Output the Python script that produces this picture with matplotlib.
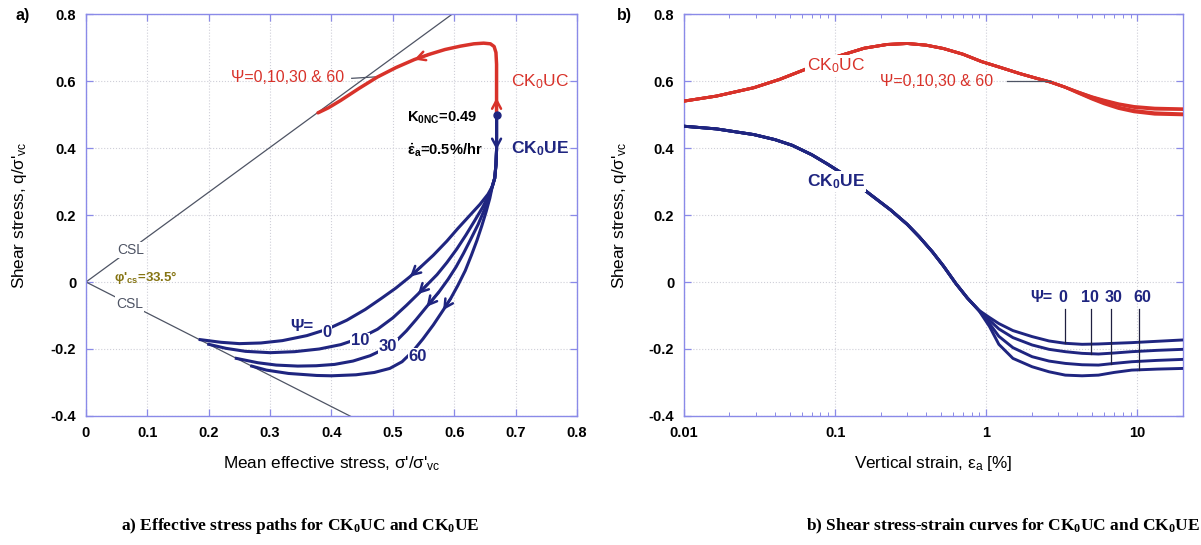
import numpy as np
import matplotlib
matplotlib.use("Agg")
import matplotlib.pyplot as plt
from matplotlib.ticker import FixedLocator, LogLocator, NullFormatter, FuncFormatter

plt.rcParams['font.family'] = ['Liberation Sans', 'DejaVu Sans']
plt.rcParams['mathtext.fontset'] = 'custom'
plt.rcParams['mathtext.rm'] = 'Liberation Sans'
plt.rcParams['mathtext.it'] = 'Liberation Sans:italic'
plt.rcParams['mathtext.bf'] = 'Liberation Sans:bold'
plt.rcParams['mathtext.default'] = 'regular'

RED = '#d8322a'
BLUE = '#1f2580'
FRAME = '#8a8ae8'
OLIVE = '#857412'
CSL_GRAY = '#4e5464'

# ---------------- stress paths (p'/sigma'vc, q/sigma'vc) ----------------
psi_values = [0, 10, 30, 60]
m_comp = 1.34   # critical state slope, compression
m_ext = 0.93    # critical state slope, extension
csl_comp_p = [0.0, 0.62]
csl_ext_p = [0.0, 0.45]

uc_path_p = [0.669, 0.669, 0.669, 0.669, 0.668, 0.665, 0.659, 0.648, 0.632, 0.610,
             0.585, 0.560, 0.535, 0.505, 0.475, 0.445, 0.415, 0.395, 0.378]
uc_path_q = [0.500, 0.550, 0.600, 0.650, 0.685, 0.703, 0.711, 0.713, 0.711, 0.704,
             0.694, 0.680, 0.664, 0.640, 0.612, 0.578, 0.542, 0.520, 0.505]

ue_start_p = [0.669, 0.669, 0.669, 0.668, 0.666, 0.662]
ue_start_q = [0.500, 0.450, 0.395, 0.350, 0.310, 0.285]

ue_psi0_p = [0.655, 0.642, 0.625, 0.606, 0.588, 0.566, 0.546, 0.528, 0.505, 0.482,
             0.455, 0.425, 0.393, 0.360, 0.320, 0.285, 0.250, 0.220, 0.186]
ue_psi0_q = [0.262, 0.232, 0.198, 0.160, 0.122, 0.080, 0.046, 0.016, -0.018, -0.048,
             -0.082, -0.114, -0.141, -0.160, -0.175, -0.182, -0.184, -0.180, -0.172]

ue_psi10_p = [0.656, 0.646, 0.633, 0.619, 0.604, 0.588, 0.572, 0.557, 0.541, 0.522,
              0.500, 0.475, 0.446, 0.415, 0.380, 0.340, 0.300, 0.260, 0.228, 0.200]
ue_psi10_q = [0.258, 0.222, 0.182, 0.140, 0.098, 0.058, 0.022, -0.006, -0.036, -0.070,
              -0.107, -0.141, -0.168, -0.187, -0.200, -0.208, -0.211, -0.207, -0.198, -0.186]

ue_psi30_p = [0.657, 0.649, 0.639, 0.627, 0.615, 0.603, 0.590, 0.575, 0.555, 0.538,
              0.522, 0.505, 0.485, 0.463, 0.435, 0.405, 0.375, 0.345, 0.310, 0.280, 0.245]
ue_psi30_q = [0.255, 0.215, 0.172, 0.128, 0.085, 0.045, 0.008, -0.030, -0.074, -0.112,
              -0.146, -0.177, -0.201, -0.220, -0.236, -0.246, -0.250, -0.251, -0.248, -0.241, -0.228]

ue_psi60_p = [0.658, 0.652, 0.645, 0.637, 0.628, 0.618, 0.606, 0.594, 0.582, 0.566,
              0.549, 0.532, 0.515, 0.495, 0.470, 0.440, 0.400, 0.376, 0.330, 0.294, 0.270]
ue_psi60_q = [0.250, 0.210, 0.168, 0.124, 0.080, 0.034, -0.010, -0.050, -0.084, -0.128,
              -0.170, -0.208, -0.238, -0.258, -0.270, -0.277, -0.280, -0.279, -0.273, -0.263, -0.251]

ue_branch_p = [ue_psi0_p, ue_psi10_p, ue_psi30_p, ue_psi60_p]
ue_branch_q = [ue_psi0_q, ue_psi10_q, ue_psi30_q, ue_psi60_q]
ue_arrow_index = [7, 8, 8, 8]

# ---------------- stress-strain curves (strain %, q/sigma'vc) ----------------
uc_strain = [0.01, 0.0164, 0.029, 0.043, 0.062, 0.09, 0.156, 0.22, 0.30, 0.40,
             0.52, 0.70, 0.93, 1.25, 1.67, 2.15, 2.65, 3.3, 4.0, 5.0, 6.0, 7.5, 9.5, 13.0, 20.0]
uc_common_q = [0.540, 0.555, 0.580, 0.605, 0.633, 0.665, 0.698, 0.709, 0.712, 0.707,
               0.697, 0.680, 0.658, 0.640, 0.622, 0.608, 0.597, 0.582]
uc_tail_psi0 = [0.568, 0.553, 0.543, 0.532, 0.524, 0.519, 0.517]
uc_tail_psi10 = [0.568, 0.552, 0.541, 0.530, 0.521, 0.516, 0.515]
uc_tail_psi30 = [0.566, 0.548, 0.535, 0.522, 0.512, 0.505, 0.502]
uc_tail_psi60 = [0.565, 0.546, 0.532, 0.518, 0.508, 0.501, 0.499]

ue_strain_start = [0.01, 0.0164, 0.029, 0.04, 0.052, 0.07, 0.089, 0.12, 0.156, 0.233, 0.30,
                   0.36, 0.44, 0.52, 0.63, 0.75, 0.89]
ue_q_start = [0.465, 0.457, 0.440, 0.425, 0.408, 0.380, 0.352, 0.315, 0.275, 0.215, 0.172,
              0.135, 0.090, 0.048, -0.005, -0.048, -0.084]
ue_strain_tail = [1.05, 1.21, 1.5, 2.01, 2.6, 3.33, 4.3, 5.52, 7.0, 9.16, 13.5, 20.0]
ue_tail_psi0 = [-0.106, -0.124, -0.145, -0.163, -0.176, -0.183, -0.186, -0.185, -0.183, -0.181, -0.177, -0.173]
ue_tail_psi10 = [-0.114, -0.140, -0.166, -0.188, -0.201, -0.208, -0.213, -0.215, -0.212, -0.208, -0.204, -0.201]
ue_tail_psi30 = [-0.124, -0.162, -0.196, -0.223, -0.236, -0.243, -0.247, -0.248, -0.243, -0.238, -0.234, -0.231]
ue_tail_psi60 = [-0.133, -0.186, -0.228, -0.253, -0.268, -0.278, -0.280, -0.278, -0.270, -0.263, -0.260, -0.258]

uc_tails = [uc_tail_psi0, uc_tail_psi10, uc_tail_psi30, uc_tail_psi60]
ue_tails = [ue_tail_psi0, ue_tail_psi10, ue_tail_psi30, ue_tail_psi60]
psi_marker_strain = [3.3, 4.95, 6.7, 10.3]
psi_label_strain = [3.2, 4.84, 6.97, 10.7]

fig = plt.figure(figsize=(12.01, 5.45), dpi=100)
ax1 = fig.add_axes([0.0716, 0.2367, 0.4088, 0.7376])
ax2 = fig.add_axes([0.5695, 0.2367, 0.4155, 0.7376])

tick_font = dict(fontsize=10.5, fontweight='bold')


def style_axes(ax):
    for s in ax.spines.values():
        s.set_color(FRAME)
        s.set_linewidth(1.0)
    ax.tick_params(which='both', direction='in', top=True, right=True,
                   color=FRAME, labelcolor='black')
    ax.tick_params(which='major', length=5, width=0.9, pad=7)
    ax.tick_params(which='minor', length=3, width=0.7)
    for lab in ax.get_xticklabels() + ax.get_yticklabels():
        lab.set_fontsize(tick_font['fontsize'])
        lab.set_fontweight(tick_font['fontweight'])
    ax.grid(True, which='major', color='#cfcfd8', linestyle=':', linewidth=0.8)
    ax.set_axisbelow(True)


def num_fmt(v, pos):
    if abs(v) < 1e-9:
        return '0'
    return f'{v:g}'


def arrow_on(ax, xs, ys, i, color):
    ax.annotate('', xy=(xs[i], ys[i]), xytext=(xs[i - 1], ys[i - 1]),
                arrowprops=dict(arrowstyle='->,head_length=0.6,head_width=0.32',
                                color=color, lw=1.8, shrinkA=0, shrinkB=0),
                zorder=5)


# ---------- panel a: effective stress paths ----------
ax1.set_xlim(0, 0.8)
ax1.set_ylim(-0.4, 0.8)
ax1.xaxis.set_major_locator(FixedLocator(np.arange(0, 0.81, 0.1)))
ax1.yaxis.set_major_locator(FixedLocator(np.arange(-0.4, 0.81, 0.2)))
ax1.xaxis.set_major_formatter(FuncFormatter(num_fmt))
ax1.yaxis.set_major_formatter(FuncFormatter(num_fmt))

cp = np.array(csl_comp_p)
ep = np.array(csl_ext_p)
ax1.plot(cp, m_comp * cp, color=CSL_GRAY, lw=0.9, zorder=2)
ax1.plot(ep, -m_ext * ep, color=CSL_GRAY, lw=0.9, zorder=2)

ax1.plot(uc_path_p, uc_path_q, color=RED, lw=2.5, zorder=4, solid_capstyle='round')
arrow_on(ax1, uc_path_p, uc_path_q, 1, RED)
arrow_on(ax1, uc_path_p, uc_path_q, 12, RED)

for bp, bq, ai in zip(ue_branch_p, ue_branch_q, ue_arrow_index):
    ax1.plot(ue_start_p + bp, ue_start_q + bq, color=BLUE, lw=2.2, zorder=4)
    arrow_on(ax1, bp, bq, ai, BLUE)
arrow_on(ax1, ue_start_p, ue_start_q, 2, BLUE)
ax1.plot([ue_start_p[0]], [ue_start_q[0]], 'o', ms=5, mfc=BLUE, mec=BLUE, zorder=6)

box = dict(facecolor='white', edgecolor='none', pad=0.6)
ax1.text(0.073, 0.095, 'CSL', color=CSL_GRAY, fontsize=10, ha='center', va='center',
         bbox=box, zorder=3)
ax1.text(0.071, -0.066, 'CSL', color=CSL_GRAY, fontsize=10, ha='center', va='center',
         bbox=box, zorder=3)
ax1.text(0.045, 0.012, "φ'$_{cs}$=33.5°", color=OLIVE, fontsize=9.5, fontweight='bold',
         ha='left', va='center')

ax1.text(0.328, 0.610, 'Ψ=0,10,30 & 60', color=RED, fontsize=11.5, ha='center', va='center')
ax1.plot([0.433, 0.478], [0.608, 0.613], color=CSL_GRAY, lw=0.9, zorder=3)
ax1.text(0.692, 0.597, 'CK$_0$UC', color=RED, fontsize=12.5, ha='left', va='center')
ax1.text(0.692, 0.397, 'CK$_0$UE', color=BLUE, fontsize=12.5, fontweight='bold',
         ha='left', va='center')
ax1.text(0.523, 0.490, 'K$_{0NC}$=0.49', color='black', fontsize=10.5, fontweight='bold',
         ha='left', va='center')
ax1.text(0.523, 0.394, r'$\dot{ε}_{a}$=0.5%/hr', color='black', fontsize=10.5,
         fontweight='bold', ha='left', va='center')

ax1.text(0.352, -0.133, 'Ψ=', color=BLUE, fontsize=12, fontweight='bold',
         ha='center', va='center', zorder=7)
psi_text_pos = [(0.393, -0.152), (0.446, -0.176), (0.492, -0.193), (0.541, -0.222)]
for psi, (px, py) in zip(psi_values, psi_text_pos):
    ax1.text(px, py, str(psi), color=BLUE, fontsize=12, fontweight='bold',
             ha='center', va='center', bbox=dict(facecolor='white', edgecolor='none', pad=0.5),
             zorder=7)

ax1.set_xlabel("Mean effective stress, σ'/σ'$_{vc}$", fontsize=12.3)
ax1.set_ylabel("Shear stress, q/σ'$_{vc}$", fontsize=12.3)
ax1.xaxis.set_label_coords(0.5, -0.095)
ax1.yaxis.set_label_coords(-0.116, 0.5)
style_axes(ax1)

# ---------- panel b: stress-strain curves ----------
ax2.set_xscale('log')
ax2.set_xlim(0.01, 20)
ax2.set_ylim(-0.4, 0.8)
ax2.xaxis.set_major_locator(FixedLocator([0.01, 0.1, 1, 10]))
ax2.xaxis.set_minor_locator(LogLocator(base=10, subs=np.arange(2, 10), numticks=20))
ax2.xaxis.set_minor_formatter(NullFormatter())
ax2.xaxis.set_major_formatter(FuncFormatter(lambda v, p: f'{v:g}'))
ax2.yaxis.set_major_locator(FixedLocator(np.arange(-0.4, 0.81, 0.2)))
ax2.yaxis.set_major_formatter(FuncFormatter(num_fmt))

for tail in uc_tails:
    ax2.plot(uc_strain, uc_common_q + tail, color=RED, lw=2.1, zorder=4)
for tail in ue_tails:
    ax2.plot(ue_strain_start + ue_strain_tail, ue_q_start + tail, color=BLUE, lw=2.1, zorder=4)

ax2.text(0.101, 0.645, 'CK$_0$UC', color=RED, fontsize=12.5, ha='center', va='center',
         bbox=dict(facecolor='white', edgecolor='none', pad=1.0), zorder=6)
ax2.text(0.101, 0.300, 'CK$_0$UE', color=BLUE, fontsize=12.5, fontweight='bold',
         ha='center', va='center', bbox=dict(facecolor='white', edgecolor='none', pad=1.0),
         zorder=6)
ax2.text(0.47, 0.600, 'Ψ=0,10,30 & 60', color=RED, fontsize=11.5, ha='center', va='center')
ax2.plot([1.37, 2.66], [0.600, 0.600], color=CSL_GRAY, lw=0.9, zorder=5)

ax2.text(2.31, -0.045, 'Ψ=', color=BLUE, fontsize=11.5, fontweight='bold',
         ha='center', va='center')
log_tail_x = np.log10(ue_strain_tail)
for psi, mx, lx, tail in zip(psi_values, psi_marker_strain, psi_label_strain, ue_tails):
    ax2.text(lx, -0.045, str(psi), color=BLUE, fontsize=11.5, fontweight='bold',
             ha='center', va='center')
    y_end = np.interp(np.log10(mx), log_tail_x, tail)
    ax2.plot([mx, mx], [-0.08, y_end], color='#202040', lw=0.9, zorder=5)

ax2.set_xlabel('Vertical strain, ε$_{a}$ [%]', fontsize=12.3)
ax2.set_ylabel("Shear stress, q/σ'$_{vc}$", fontsize=12.3)
ax2.xaxis.set_label_coords(0.5, -0.095)
ax2.yaxis.set_label_coords(-0.110, 0.5)
style_axes(ax2)

fig.text(0.013, 0.972, 'a)', fontsize=11.5, fontweight='bold', va='center', ha='left')
fig.text(0.514, 0.972, 'b)', fontsize=11.5, fontweight='bold', va='center', ha='left')

cap_font = dict(family=['Liberation Serif', 'DejaVu Serif'], fontsize=12.5, fontweight='bold')
fig.text(0.25, 0.035, 'a) Effective stress paths for CK$_0$UC and CK$_0$UE',
         ha='center', va='center', **cap_font)
fig.text(0.999, 0.035, 'b) Shear stress-strain curves for CK$_0$UC and CK$_0$UE',
         ha='right', va='center', **cap_font)

fig.savefig('out.png', dpi=100)
